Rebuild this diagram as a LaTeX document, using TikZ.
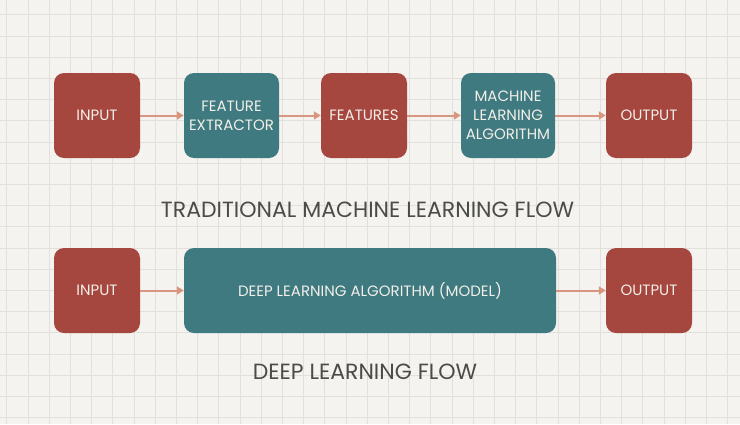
\documentclass[tikz,border=0pt]{standalone}
\usepackage{fontspec}
\setmainfont{Poppins}
\usetikzlibrary{arrows.meta}
\definecolor{paper}{HTML}{F4F3EF}
\definecolor{gridgray}{HTML}{E2E0DB}
\definecolor{boxred}{HTML}{A5463F}
\definecolor{boxteal}{HTML}{3E7A80}
\definecolor{flowarrow}{HTML}{D8957F}
\definecolor{boxtext}{HTML}{F3EFE8}
\definecolor{titlegray}{HTML}{4B4B49}
\begin{document}
\begin{tikzpicture}[x=1pt, y=-1pt,
    stage/.style={rounded corners=10pt, minimum height=85pt, inner sep=0pt,
      text=boxtext, align=center, font=\fontsize{15}{19}\selectfont},
    iobox/.style={stage, fill=boxred, minimum width=86pt},
    algobox/.style={stage, fill=boxteal},
    flow/.style={draw=flowarrow, line width=2pt, -{Triangle[length=7pt,width=8pt]}},
    caption/.style={text=titlegray, font=\fontsize{22}{26}\selectfont}]
  \useasboundingbox (0, 0) rectangle (740, 424);
  \fill [paper] (0, 0) rectangle (740, 424);
  \foreach \gx in {0, ..., 34}
    \draw [gridgray, line width=0.7pt] (6.8+21.2*\gx, 0) -- ++(0, 424);
  \foreach \gy in {0, ..., 19}
    \draw [gridgray, line width=0.7pt] (0, 14.8+21.2*\gy) -- ++(740, 0);
  % traditional flow
  \node [iobox] (in1) at (97, 115.5) {INPUT};
  \node [algobox, minimum width=95pt] (extractor) at (231.5, 115.5) {FEATURE\\EXTRACTOR};
  \node [iobox] (features) at (364, 115.5) {FEATURES};
  \node [algobox, minimum width=94pt] (mlalgo) at (508, 115.5) {MACHINE\\LEARNING\\ALGORITHM};
  \node [iobox] (out1) at (649, 115.5) {OUTPUT};
  \draw [flow] (in1) -- (extractor);
  \draw [flow] (extractor) -- (features);
  \draw [flow] (features) -- (mlalgo);
  \draw [flow] (mlalgo) -- (out1);
  \node [caption] (tradtitle) at (367.5, 210) {TRADITIONAL MACHINE LEARNING FLOW};
  % deep learning flow
  \node [iobox] (in2) at (97, 290.5) {INPUT};
  \node [algobox, minimum width=372pt] (dlmodel) at (370, 290.5) {DEEP LEARNING ALGORITHM (MODEL)};
  \node [iobox] (out2) at (649, 290.5) {OUTPUT};
  \draw [flow] (in2) -- (dlmodel);
  \draw [flow] (dlmodel) -- (out2);
  \node [caption] (dltitle) at (365, 372) {DEEP LEARNING FLOW};
\end{tikzpicture}
\end{document}
